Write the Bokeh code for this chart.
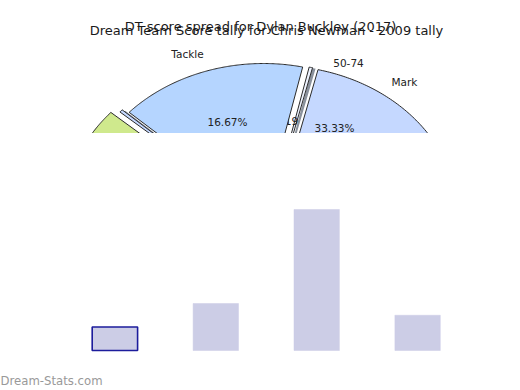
import numpy as np
from bokeh.plotting import figure
from bokeh.models import Range1d, ColumnDataSource
from bokeh.layouts import column
from bokeh.core.properties import value
from bokeh.embed import file_html
from bokeh.resources import INLINE

# ---------------- data ----------------
# Pie: Dream Team score tally (Chris Newman, 2009) - only the upper part is visible
pie_labels = ["Mark", "Hitout", "Tackle", "Goal", "Kick", "Handball"]
pie_percent = [33.33, 0.30, 16.67, 0.30, 22.00, 27.40]

# Bars: DT score spread (Dylan Buckley, 2017)
score_ranges = ["0-49", "50-74", "75-99", "100+"]
games = [2, 4, 12, 3]

# ---------------- styles / layout ----------------
pie_colors = ["#c5d8ff", "#eef3ff", "#b5d5ff", "#c5d8ff", "#cfe98d", "#d8ccf2"]
# per-slice centres (exploded pie), in page pixels
slice_cx = [275.0, 269.5, 263.0, 256.0, 247.0, 255.0]
slice_cy = [215.0, 213.0, 213.0, 210.5, 211.0, 214.0]
has_shadow = [False, True, False, True, False, False]
START_DEG = -43.5
RX, RY = 182.0, 150.0
W = 520
PIE_H = 133
BAR_H = 390 - PIE_H
FONT = value("DejaVu Sans")

# ---------------- pie figure ----------------
pie = figure(width=W, height=PIE_H, output_backend="svg", toolbar_location=None,
             x_range=Range1d(0, W), y_range=Range1d(-PIE_H, 0),
             x_axis_location=None, y_axis_location=None,
             min_border=0, outline_line_color=None, background_fill_color="white",
             border_fill_color="white")
pie.grid.visible = False

ends = START_DEG + np.cumsum(np.array(pie_percent) * 3.6)
starts = np.concatenate([[START_DEG], ends[:-1]])

def slice_poly(i, dx=0.0, dy=0.0):
    t = np.radians(np.linspace(starts[i], ends[i], 160))
    cx, cy = slice_cx[i] + dx, -(slice_cy[i] + dy)
    xs = np.concatenate([[cx], cx + RX * np.cos(t), [cx]])
    ys = np.concatenate([[cy], cy + RY * np.sin(t), [cy]])
    return list(xs), list(ys)

# shadows of the thin slices
sh_x, sh_y = [], []
for i in range(len(pie_percent)):
    if has_shadow[i]:
        xs, ys = slice_poly(i, 3.0, 1.0)
        sh_x.append(xs); sh_y.append(ys)
pie.patches(sh_x, sh_y, fill_color="#8a919c", line_color=None)

order_first = [i for i in range(len(pie_percent)) if has_shadow[i]]
order_last = [2, 0, 4, 5]

def draw(idx):
    xs, ys, cs = [], [], []
    for i in idx:
        a, b = slice_poly(i)
        xs.append(a); ys.append(b); cs.append(pie_colors[i])
    pie.patches(xs, ys, fill_color=cs, line_color="#2a2a2a", line_width=1)

draw(order_first)
# label partly covered by the Tackle slice
pie.text(x=[291], y=[-120], text=["19"], text_font=FONT, text_font_size="10.5px",
         text_align="center", text_baseline="middle", text_color="#222222")
draw(order_last)

pie.text(x=[187, 348, 404, 227, 334], y=[-53, -62, -81, -121, -127],
         text=["Tackle", "50-74", "Mark", "16.67%", "33.33%"],
         text_font=FONT, text_font_size="10.5px", text_align="center",
         text_baseline="middle", text_color="#222222")

pie.text(x=[260], y=[-25.5], text=["DT score spread for Dylan Buckley (2017)"],
         text_font=FONT, text_font_size="13px", text_align="center",
         text_baseline="middle", text_color="#1a1a1a")
pie.text(x=[266], y=[-30], text=["Dream Team Score tally for Chris Newman - 2009 tally"],
         text_font=FONT, text_font_size="13px", text_align="center",
         text_baseline="middle", text_color="#1a1a1a")

# ---------------- bar figure ----------------
PX_PER_CAT = 101.0
PX_PER_UNIT = 11.75
left_px, right_px = 64.0, 52.5
base_px = 40.0  # distance from bar baseline to bottom of page
x_end = len(score_ranges) + right_px / PX_PER_CAT
bar = figure(width=W, height=BAR_H, output_backend="svg", toolbar_location=None,
             x_range=Range1d(-left_px / PX_PER_CAT, x_end),
             y_range=Range1d(-base_px / PX_PER_UNIT, (BAR_H - base_px) / PX_PER_UNIT),
             x_axis_location=None, y_axis_location=None,
             min_border=0, outline_line_color=None, background_fill_color="white",
             border_fill_color="white")
bar.grid.visible = False

src = ColumnDataSource(dict(
    x=[i + 0.5 for i in range(len(score_ranges))],
    top=games,
    cat=score_ranges,
    lc=["#1c1c9c"] + ["#cccde6"] * (len(games) - 1),
    lw=[1.6] + [0.5] * (len(games) - 1),
))
bar.vbar(x="x", top="top", bottom=0, width=0.45, source=src,
         fill_color="#cccde6", line_color="lc", line_width="lw")

bar.text(x=[-left_px / PX_PER_CAT], y=[-(30.0) / PX_PER_UNIT], text=["Dream-Stats.com"],
         text_font=FONT, text_font_size="11.7px", text_align="left",
         text_baseline="middle", text_color="#999999")

layout = column(pie, bar, spacing=0)
open("out.html", "w").write(file_html(layout, INLINE))
